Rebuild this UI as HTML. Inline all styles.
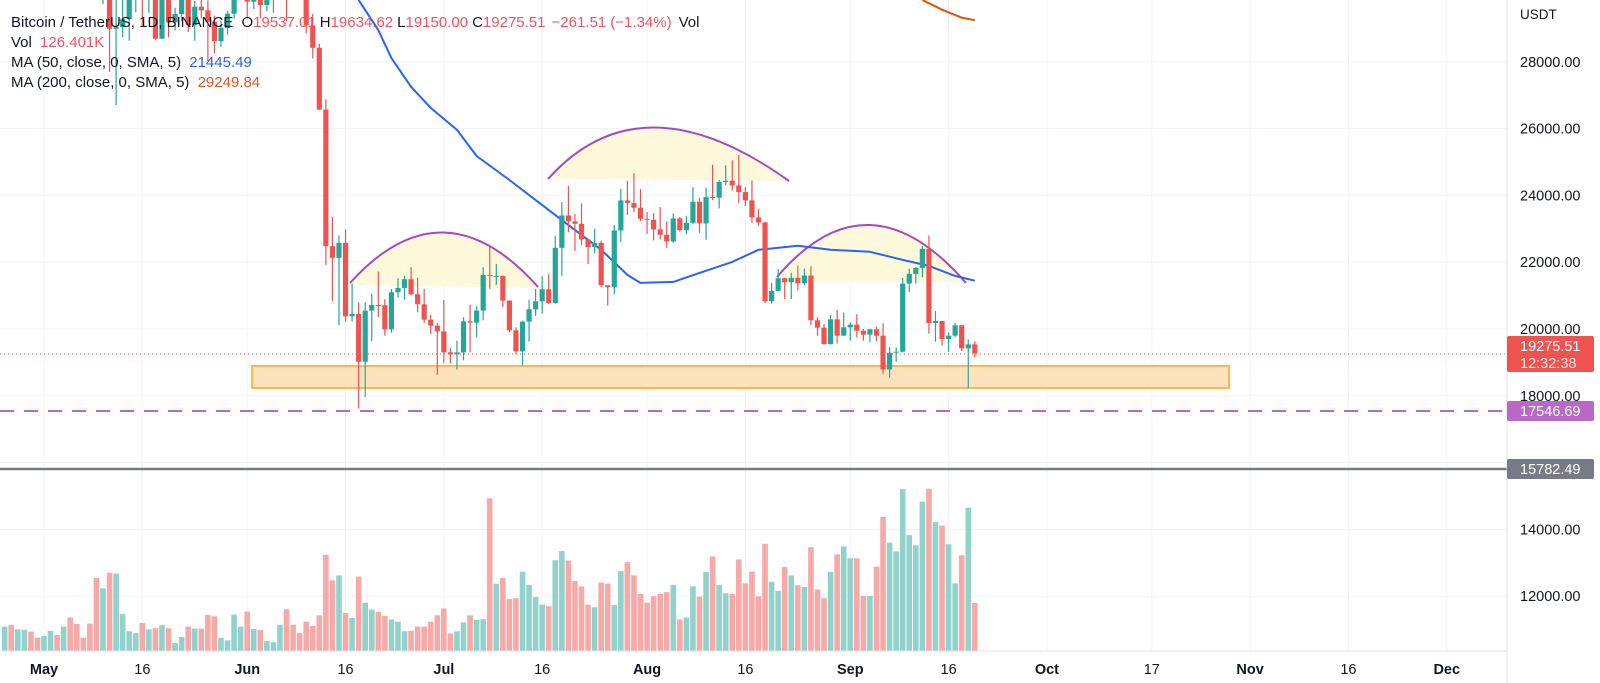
<!DOCTYPE html>
<html><head><meta charset="utf-8"><style>
html,body{margin:0;padding:0;background:#fff;}
svg{display:block;font-family:"Liberation Sans",sans-serif;}
</style></head><body>
<svg id="chart" width="1600" height="683" viewBox="0 0 1600 683" xmlns="http://www.w3.org/2000/svg">
<defs><clipPath id="plot"><rect x="0" y="0" width="1507" height="651"/></clipPath></defs>
<rect width="1600" height="683" fill="#fff"/>
<g id="grid"></g>
<g clip-path="url(#plot)">
<g id="vol"></g>
<g>
<path d="M350,283 Q443,180 538,287 L538,288 L350,285 Z" fill="#fff9dc" stroke="none"/>
<path d="M350,283 Q443,180 538,287" fill="none" stroke="#ab47bc" stroke-width="2"/>
<path d="M548,179 Q641,75 789,181 Z" fill="#fff9dc"/>
<path d="M548,179 Q641,75 789,181" fill="none" stroke="#ab47bc" stroke-width="2"/>
<path d="M777,277 Q868,170 967,282 L777,282 Z" fill="#fff9dc"/>
<path d="M777,277 Q868,170 966,283" fill="none" stroke="#ab47bc" stroke-width="2"/>
<rect x="252" y="366" width="977" height="22" fill="#fde3bd" stroke="#ffb74d" stroke-width="2"/>
</g>
<g id="ma"></g>
<g id="candles"></g>
<line x1="0" y1="354" x2="1507" y2="354" stroke="#ef5350" stroke-width="1" stroke-dasharray="1,3"/>
<line x1="0" y1="411" x2="1507" y2="411" stroke="#ba68c8" stroke-width="2" stroke-dasharray="14,10"/>
<line x1="0" y1="469" x2="1507" y2="469" stroke="#787b86" stroke-width="2.5"/>
</g>
<line x1="1507" y1="0" x2="1507" y2="683" stroke="#e0e3eb"/>
<line x1="0" y1="651" x2="1507" y2="651" stroke="#e0e3eb"/>
<g id="axes" font-size="14.5" fill="#131722"></g>
<text x="1520" y="19" font-size="13.5" fill="#131722">USDT</text>
<g>
<rect x="1507" y="336" width="87" height="36" rx="2" fill="#ef5350"/>
<text x="1520" y="351" font-size="14.5" fill="#fff">19275.51</text>
<text x="1520" y="368" font-size="14.5" fill="#fde0e0">12:32:38</text>
</g>
<g>
<rect x="1507" y="401" width="87" height="20" rx="2" fill="#ba68c8"/>
<text x="1520" y="416" font-size="14.5" fill="#fff">17546.69</text>
</g>
<g>
<rect x="1507" y="459" width="87" height="20" rx="2" fill="#787b86"/>
<text x="1520" y="474" font-size="14.5" fill="#fff">15782.49</text>
</g>
<g font-size="15">
<text x="11" y="27" fill="#131722">Bitcoin / TetherUS, 1D, BINANCE <tspan dx="4">O</tspan><tspan fill="#f7525f">19537.01</tspan><tspan dx="4">H</tspan><tspan fill="#f7525f">19634.62</tspan><tspan dx="4">L</tspan><tspan fill="#f7525f">19150.00</tspan><tspan dx="4">C</tspan><tspan fill="#f7525f">19275.51</tspan><tspan dx="6" fill="#f7525f">−261.51 (−1.34%)</tspan><tspan dx="7">Vol</tspan></text>
<text x="11" y="47" fill="#131722">Vol <tspan dx="4" fill="#f7525f">126.401K</tspan></text>
<text x="11" y="67" fill="#131722">MA (50, close, 0, SMA, 5) <tspan dx="4" fill="#2962ff">21445.49</tspan></text>
<text x="11" y="87" fill="#131722">MA (200, close, 0, SMA, 5) <tspan dx="4" fill="#f4511e">29249.84</tspan></text>
</g>
</svg>
<script>
const closes=[40430,38110,39240,39740,38600,37630,
38470,38530,37720,39690,36550,36010,35470,34060,30080,31010,28990,29040,29280,30080,31300,29860,30420,28690,30310,29180,29430,30280,29100,29650,29540,29200,28620,29010,29440,31720,31790,
29800,30450,29700,29860,29900,31370,31120,30200,30110,29090,28420,26570,22480,22130,22580,20380,20450,19020,20550,20720,20710,19990,21100,21230,21490,21040,20740,20280,20100,19930,
19300,19240,19300,20230,20190,20550,21620,21590,21590,20850,19960,19330,20220,20590,20830,21190,20780,22430,23400,23220,23150,22680,22450,22580,21310,21250,22950,23850,23770,23630,23300,
23270,22980,22820,22620,23310,22960,23180,23810,23160,23950,23930,24400,24440,24300,24100,23850,23340,23190,20830,21140,21520,21400,21530,21370,21600,20260,20040,19550,20290,19800,20050,
20130,19950,19830,19990,19800,18790,19290,19320,21360,21650,21830,22400,20180,20240,19700,19800,20110,19420,19540,19275.51];
const highs=[40600,40500,39450,40400,39900,38800,
38680,39170,38650,40020,39850,36650,36140,35500,34240,32660,32190,30030,30980,30330,31410,31290,30790,30660,30540,30770,29620,30450,30670,29820,30220,29840,29380,29220,29530,32220,32400,
31980,30660,30690,29950,30170,31750,31560,31330,30700,30360,29440,28540,26880,23360,22800,22980,21360,20800,20800,21050,21720,20890,21200,21520,21600,21850,21540,21200,20430,20180,
20870,19430,19650,20350,20730,20680,21850,22520,21950,21600,20860,20050,20250,20880,21200,21580,21650,22790,23800,24280,23440,23760,22690,23000,22650,21300,23110,24200,24440,24670,24190,
23500,23470,23650,23220,23460,23350,23380,24250,23930,24230,24920,24460,24900,25050,25210,24250,24450,23600,23210,21380,21800,21530,21680,21900,21810,21880,20360,20150,20420,20570,20490,
20200,20440,20000,20010,20060,20170,19460,19450,21530,21800,21860,22490,22800,20540,20190,19890,20190,20120,19690,19634.62];
const lows=[39000,37900,37700,38900,38200,37600,
37390,38050,37510,37670,35570,35260,34800,33710,30030,29730,27700,26700,28730,28630,29480,29090,29460,28660,28710,28730,28940,29220,28890,28630,29300,28020,28250,28450,28810,29300,31200,
29310,29580,29300,29520,29470,29880,29220,29850,29940,28850,28100,26560,21920,20840,20110,20230,20220,17620,17960,19640,20360,19800,19890,20940,20880,21000,20500,20180,19850,18630,
18980,18970,18780,19060,19300,19760,20260,21200,21320,20660,19900,19240,18910,19620,20390,20460,20750,20760,21580,22900,22340,22510,21950,22260,21250,20700,21040,22600,23420,23500,23230,
22850,22650,22680,22430,22580,22920,22840,23150,22880,22670,23860,23610,24300,24150,23770,23680,23180,23090,20780,20760,21140,20890,20900,21160,21310,20110,19800,19530,19530,19560,19800,
19650,19750,19650,19600,19640,18650,18540,19020,19300,21110,21360,21550,19860,19620,19500,19320,19750,19340,18230,19150];
const volumes=[64,69,57,56,51,35,40,53,42,64,88,71,35,72,192,165,206,204,97,52,47,74,57,60,68,60,21,37,64,59,59,95,91,35,28,96,64,104,58,55,26,23,69,110,69,47,77,66,94,253,186,199,100,87,196,127,109,103,92,83,77,52,53,64,64,77,94,112,46,52,75,94,82,84,402,177,192,137,139,209,174,142,122,118,239,263,238,184,170,122,115,180,177,121,210,234,199,150,127,144,150,155,174,83,88,170,143,208,249,174,152,150,241,178,209,144,282,182,158,221,199,173,169,273,162,139,208,254,275,244,244,145,145,222,353,285,262,426,305,278,393,427,339,330,281,178,252,377,126.401];
const firstOpen=39450;
const ma50Days=[48,51,53,56,59,63,66,71,76,80,85,89,91,96,100,105,109,115,120,126,131,135,139,142];
const ma50=[29850,28950,28110,27250,26620,25960,25180,24460,23710,23110,22370,21620,21380,21410,21680,22010,22370,22490,22370,22310,22070,21890,21590,21445.49];
const ma200Days=[134,137,140,142];
const ma200=[29850,29560,29320,29249.84];
const priceTicks=[28000,26000,24000,22000,20000,18000,16000,14000,12000];
const priceTickLabels=["28000.00","26000.00","24000.00","22000.00","20000.00","18000.00","16000.00","14000.00","12000.00"];
const timeTickDays=[0,15,31,46,61,76,92,107,123,138,153,169,184,199,214];
const timeTickLabels=["May","16","Jun","16","Jul","16","Aug","16","Sep","16","Oct","17","Nov","16","Dec"];
const firstDay=-6;

const NS="http://www.w3.org/2000/svg";
const xS=d=>44+d*6.555;
const yP=p=>329-(p-20000)*0.0334;
const yV=v=>651-v*0.38;
function mk(tag,attrs,parent){const e=document.createElementNS(NS,tag);for(const k in attrs)e.setAttribute(k,attrs[k]);parent.appendChild(e);return e;}
const grid=document.getElementById('grid'),axes=document.getElementById('axes');
priceTicks.forEach((p,i)=>{
  const gl=mk('line',{x1:0,x2:1507,y1:yP(p),y2:yP(p),stroke:'#f0f3fa'},grid);
  
  
  if(p===16000)return;
  const t=mk('text',{x:1520,y:yP(p)+5},axes);
  
  
  t.textContent=priceTickLabels[i];
});
timeTickDays.forEach((d,i)=>{
  const gl=mk('line',{x1:xS(d),x2:xS(d),y1:0,y2:651,stroke:'#f0f3fa'},grid);
  
  
  const isMonth=isNaN(+timeTickLabels[i]);
  const t=mk('text',{x:xS(d),y:674,'text-anchor':'middle','font-weight':isMonth?'bold':'normal'},axes);
  
  
  t.textContent=timeTickLabels[i];
});
const vol=document.getElementById('vol'),cg=document.getElementById('candles'),ma=document.getElementById('ma');
const n=Math.min(closes.length,highs.length,lows.length);
for(let i=0;i<n;i++){
  const d=firstDay+i,x=xS(d);
  const o=i===0?firstOpen:closes[i-1],c=closes[i];
  const up=c>=o;
  if(i<volumes.length){
    const vb=mk('rect',{x:x-2.8,y:yV(volumes[i]),width:5.6,height:651-yV(volumes[i]),fill:up?'#92d2cc':'#f7a9a7'},vol);
    
    
  }
  const col=up?'#26a69a':'#ef5350';
  const w=mk('line',{x1:x,x2:x,y1:yP(highs[i]),y2:yP(lows[i]),stroke:col,'stroke-width':1.2},cg);
  
  
  const top=yP(Math.max(o,c)),bot=yP(Math.min(o,c));
  const b=mk('rect',{x:x-2.6,y:top,width:5.2,height:Math.max(1,bot-top),fill:col},cg);
  
  
}
function line(days,vals,color,name){
  const pts=days.map((d,i)=>xS(d).toFixed(1)+','+yP(vals[i]).toFixed(1)).join(' ');
  const l=mk('polyline',{points:pts,fill:'none',stroke:color,'stroke-width':2,'stroke-linejoin':'round'},ma);
  
  
}
line(ma50Days,ma50,'#2962ff','ma50-line');
line(ma200Days,ma200,'#e65100','ma200-line');
</script>
</body></html>
